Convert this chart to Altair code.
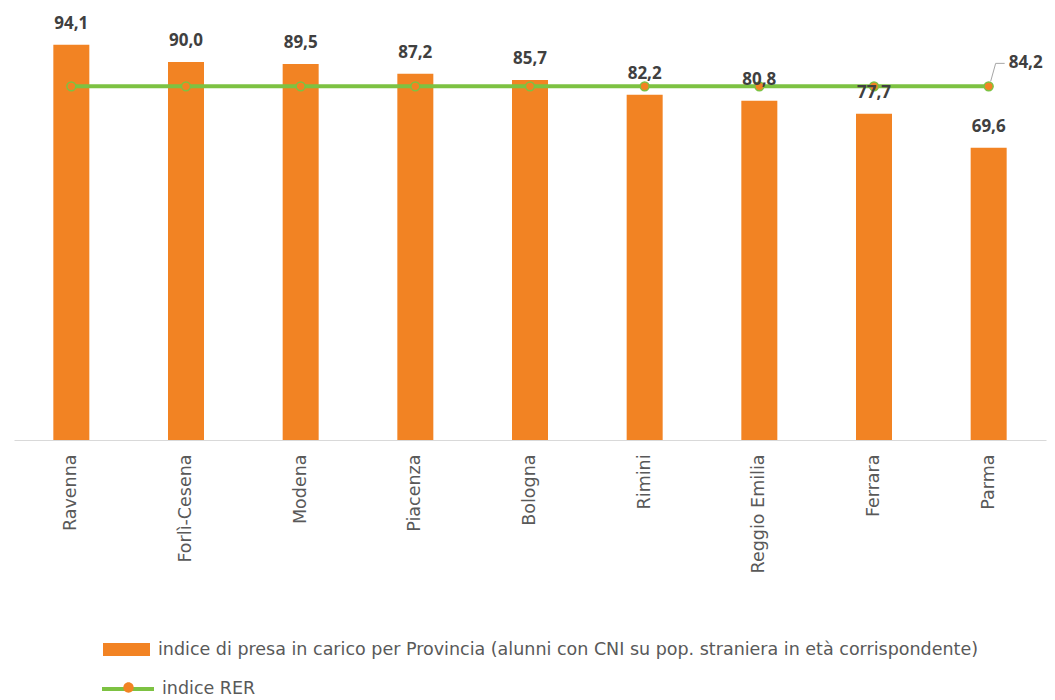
import altair as alt
import pandas as pd

provinces = ["Ravenna", "Forlì-Cesena", "Modena", "Piacenza", "Bologna",
             "Rimini", "Reggio Emilia", "Ferrara", "Parma"]
values = [94.1, 90.0, 89.5, 87.2, 85.7, 82.2, 80.8, 77.7, 69.6]
rer_value = 84.2
bar_series = "indice di presa in carico per Provincia (alunni con CNI su pop. straniera  in età corrispondente)"
line_series = "indice RER"

ORANGE = "#F28323"
GREEN = "#7DC242"
FONT = "Open Sans"
TFONT = "DejaVu Sans"

df = pd.DataFrame({
    "prov": provinces,
    "val": values,
    "rer": [rer_value] * len(provinces),
    "s_bar": [bar_series] * len(provinces),
    "s_line": [line_series] * len(provinces),
})

x = alt.X("prov:N", sort=provinces,
          scale=alt.Scale(paddingInner=0, paddingOuter=0),
          axis=alt.Axis(title=None, labelAngle=-90, ticks=False,
                        domainColor="#d9d9d9", domainWidth=1,
                        labelColor="#595959", labelFontSize=17.5,
                        labelFont=TFONT, labelPadding=14,
                        labelAlign="right", labelBaseline="middle"))
yscale = alt.Scale(domain=[0, 100])

base = alt.Chart(df)

bars = base.mark_bar(size=36).encode(
    x=x,
    y=alt.Y("val:Q", scale=yscale, axis=None),
    fill=alt.Fill("s_bar:N", scale=alt.Scale(range=[ORANGE]),
                  legend=alt.Legend(title=None, orient="none",
                                    legendX=89, legendY=606,
                                    symbolType="M-1,-0.28H1V0.28H-1Z",
                                    symbolSize=2209, symbolStrokeWidth=0,
                                    labelFontSize=17.5, labelColor="#595959",
                                    labelFont=TFONT, labelLimit=1200,
                                    labelOffset=8)),
)

bar_labels = base.mark_text(fontSize=17, fontWeight="bold", color="#404040",
                            font=FONT, baseline="alphabetic", dy=-16).encode(
    x=alt.X("prov:N", sort=provinces),
    y=alt.Y("val:Q", scale=yscale),
    text=alt.Text("lbl:N"),
).transform_calculate(lbl="replace(format(datum.val, '.1f'), '.', ',')")

line = base.mark_line(strokeWidth=4).encode(
    x=alt.X("prov:N", sort=provinces),
    y=alt.Y("rer:Q", scale=yscale),
    stroke=alt.Stroke("s_line:N", scale=alt.Scale(range=[GREEN]),
                      legend=alt.Legend(title=None, orient="none",
                                        legendX=86, legendY=641,
                                        symbolType="stroke", symbolSize=2704,
                                        symbolStrokeWidth=4,
                                        labelFontSize=17.5, labelColor="#595959",
                                        labelFont=TFONT, labelOffset=6)),
)

points = base.mark_point(filled=True, size=80, fill=ORANGE, stroke=GREEN,
                         strokeWidth=1.5).encode(
    x=alt.X("prov:N", sort=provinces),
    y=alt.Y("rer:Q", scale=yscale),
    opacity=alt.Opacity("s_line:N", scale=alt.Scale(range=[1]),
                        legend=alt.Legend(title=None, orient="none",
                                          legendX=88, legendY=641,
                                          symbolType="M0.2,0A0.2,0.2,0,1,1,-0.2,0A0.2,0.2,0,1,1,0.2,0Z",
                                          symbolSize=2704,
                                          symbolFillColor=ORANGE,
                                          symbolStrokeColor=GREEN,
                                          symbolStrokeWidth=1,
                                          labelExpr="''")),
)

last = base.transform_filter(alt.datum.prov == provinces[-1])

leader1 = last.mark_rule(color="#a6a6a6", strokeWidth=1,
                         xOffset=2, x2Offset=7, yOffset=-5, y2Offset=-23).encode(
    x=alt.X("prov:N", sort=provinces), x2="prov",
    y=alt.Y("rer:Q", scale=yscale), y2="rer",
)
leader2 = last.mark_rule(color="#a6a6a6", strokeWidth=1,
                         xOffset=7, x2Offset=16, yOffset=-23, y2Offset=-23).encode(
    x=alt.X("prov:N", sort=provinces), x2="prov",
    y=alt.Y("rer:Q", scale=yscale), y2="rer",
)

rer_label = last.mark_text(fontSize=17, fontWeight="bold", color="#404040",
                           font=FONT, align="left", baseline="alphabetic",
                           dx=20, dy=-18).encode(
    x=alt.X("prov:N", sort=provinces),
    y=alt.Y("rer:Q", scale=yscale),
    text=alt.Text("lbl:N"),
).transform_calculate(lbl="replace(format(datum.rer, '.1f'), '.', ',')")

chart = alt.layer(bars, line, points, bar_labels, leader1, leader2, rer_label).properties(
    width=1032, height=420,
    autosize=alt.AutoSizeParams(type="none"),
    padding={"left": 6, "top": 12, "right": 1, "bottom": 258},
    background="white",
).configure_view(stroke=None)

chart.save("out.html", embed_options={"renderer": "svg", "actions": False})
